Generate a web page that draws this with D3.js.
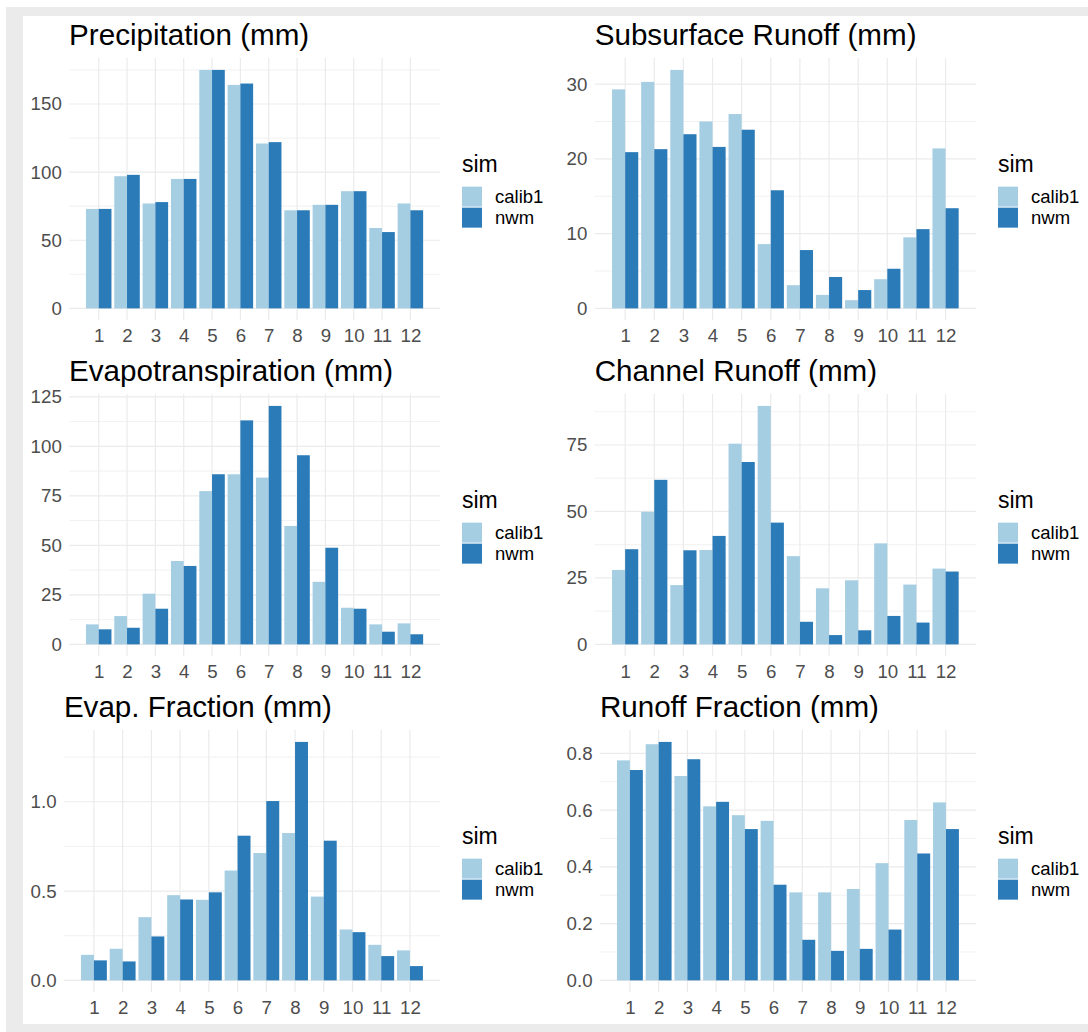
<!DOCTYPE html>
<html>
<head>
<meta charset="utf-8">
<script src="https://cdn.jsdelivr.net/npm/d3@7"></script>
<style>
  body { margin: 0; background: #fff; }
  text { font-family: "Liberation Sans", Arial, Helvetica, sans-serif; }
</style>
</head>
<body>
<svg id="chart" width="1088" height="1032"></svg>
<script>
// x axis: month of year
const months = [1, 2, 3, 4, 5, 6, 7, 8, 9, 10, 11, 12];
const sims = ["calib1", "nwm"];
const simColors = ["#a6cee3", "#2b7bb8"];

// Precipitation (mm)
const precipCalib1 = [73, 97, 77, 95, 175, 164, 121, 72, 76, 86, 59, 77];
const precipNwm    = [73, 98, 78, 95, 175, 165, 122, 72, 76, 86, 56, 72];
const precipTicks  = [0, 50, 100, 150];

// Subsurface Runoff (mm)
const subCalib1 = [29.3, 30.3, 31.9, 25.0, 26.0, 8.6, 3.1, 1.8, 1.1, 3.9, 9.5, 21.4];
const subNwm    = [20.9, 21.3, 23.3, 21.6, 23.9, 15.8, 7.8, 4.2, 2.45, 5.3, 10.6, 13.4];
const subTicks  = [0, 10, 20, 30];

// Evapotranspiration (mm)
const etCalib1 = [10.1, 14.3, 25.6, 42.1, 77.4, 85.9, 84.2, 59.8, 31.6, 18.5, 10.1, 10.6];
const etNwm    = [7.6, 8.4, 18.0, 39.6, 85.9, 113.1, 120.4, 95.5, 48.8, 18.0, 6.4, 5.1];
const etTicks  = [0, 25, 50, 75, 100, 125];

// Channel Runoff (mm)
const chanCalib1 = [28.0, 49.9, 22.3, 35.5, 75.5, 89.7, 33.2, 21.1, 24.1, 38.0, 22.5, 28.5];
const chanNwm    = [35.8, 61.9, 35.4, 40.8, 68.6, 45.8, 8.5, 3.5, 5.3, 10.7, 8.2, 27.4];
const chanTicks  = [0, 25, 50, 75];

// Evap. Fraction
const efCalib1 = [0.143, 0.177, 0.354, 0.477, 0.451, 0.615, 0.713, 0.825, 0.469, 0.285, 0.199, 0.168];
const efNwm    = [0.112, 0.106, 0.246, 0.453, 0.493, 0.810, 1.004, 1.335, 0.782, 0.270, 0.136, 0.080];
const efTicks  = [0, 0.5, 1.0];

// Runoff Fraction
const rfCalib1 = [0.775, 0.832, 0.720, 0.613, 0.582, 0.562, 0.310, 0.310, 0.322, 0.413, 0.565, 0.627];
const rfNwm    = [0.741, 0.840, 0.779, 0.629, 0.533, 0.337, 0.143, 0.104, 0.111, 0.179, 0.447, 0.533];
const rfTicks  = [0, 0.2, 0.4, 0.6, 0.8];

const panels = [
  { title: "Precipitation (mm)", calib1: precipCalib1, nwm: precipNwm, ticks: precipTicks, fmt: d3.format("d") },
  { title: "Subsurface Runoff (mm)", calib1: subCalib1, nwm: subNwm, ticks: subTicks, fmt: d3.format("d") },
  { title: "Evapotranspiration (mm)", calib1: etCalib1, nwm: etNwm, ticks: etTicks, fmt: d3.format("d") },
  { title: "Channel Runoff (mm)", calib1: chanCalib1, nwm: chanNwm, ticks: chanTicks, fmt: d3.format("d") },
  { title: "Evap. Fraction (mm)", calib1: efCalib1, nwm: efNwm, ticks: efTicks, fmt: d3.format(".1f") },
  { title: "Runoff Fraction (mm)", calib1: rfCalib1, nwm: rfNwm, ticks: rfTicks, fmt: d3.format(".1f") }
];

const W = 1088, H = 1032;
const svg = d3.select("#chart");

// grey screenshot frame
svg.append("rect").attr("x", 6).attr("y", 7).attr("width", W - 6).attr("height", H - 7).attr("fill", "#ebebeb");
svg.append("rect").attr("x", 23).attr("y", 16).attr("width", W - 23).attr("height", 1008).attr("fill", "#fff");

const gridCol = "#ebebeb";
const tickCol = "#4d4d4d";

panels.forEach((p, i) => {
  const col = i % 2, row = Math.floor(i / 2);
  const cx = 30.6 + col * 536;          // left edge of y labels
  const rowTop = 16 + row * 336;
  const top = rowTop + 42, bottom = rowTop + 304.3;
  const right = cx + 409.4;

  const ymax = d3.max(p.calib1.concat(p.nwm));
  const y = d3.scaleLinear().domain([-0.05 * ymax, 1.05 * ymax]).range([bottom, top]);

  const g = svg.append("g");
  const gridG = g.append("g");

  // y axis labels (measured first to place the panel)
  const yAxisG = g.append("g")
    .call(d3.axisLeft(y).tickValues(p.ticks).tickFormat(p.fmt).tickSize(0).tickPadding(7.3));
  yAxisG.select(".domain").remove();
  yAxisG.selectAll("text")
    .style("font-size", "18.7px")
    .attr("fill", tickCol);
  yAxisG.attr("font-family", null).attr("font-size", null);
  const lw = d3.max(yAxisG.selectAll("text").nodes(), n => n.getComputedTextLength());
  const left = cx + lw + 7.3;
  yAxisG.attr("transform", `translate(${left},0)`);

  const x = d3.scaleLinear().domain([0.55 - 0.595, 12.45 + 0.595]).range([left, right]);

  // minor breaks at midpoints
  const step = p.ticks[1] - p.ticks[0];
  const minor = [];
  for (let k = 0; k < p.ticks.length - 1; k++) minor.push((p.ticks[k] + p.ticks[k + 1]) / 2);
  if (p.ticks[0] - step / 2 >= y.domain()[0]) minor.unshift(p.ticks[0] - step / 2);
  if (p.ticks[p.ticks.length - 1] + step / 2 <= y.domain()[1]) minor.push(p.ticks[p.ticks.length - 1] + step / 2);

  gridG.selectAll(".minor").data(minor).join("line")
    .attr("x1", left).attr("x2", right)
    .attr("y1", d => y(d)).attr("y2", d => y(d))
    .attr("stroke", gridCol).attr("stroke-width", 0.7);
  gridG.selectAll(".hmajor").data(p.ticks).join("line")
    .attr("x1", left).attr("x2", right)
    .attr("y1", d => y(d)).attr("y2", d => y(d))
    .attr("stroke", gridCol).attr("stroke-width", 1.2);
  gridG.selectAll(".vmajor").data(months).join("line")
    .attr("x1", d => x(d)).attr("x2", d => x(d))
    .attr("y1", top).attr("y2", bottom)
    .attr("stroke", gridCol).attr("stroke-width", 1.2);

  // bars: calib1 left of month, nwm right of month
  const bars = [];
  months.forEach((m, j) => {
    bars.push({ m: m, v: p.calib1[j], s: 0 });
    bars.push({ m: m, v: p.nwm[j], s: 1 });
  });
  g.append("g").selectAll("rect").data(bars).join("rect")
    .attr("x", d => x(d.m - 0.45 + d.s * 0.45))
    .attr("width", d => x(d.m) - x(d.m - 0.45))
    .attr("y", d => y(d.v))
    .attr("height", d => y(0) - y(d.v))
    .attr("fill", d => simColors[d.s]);

  // x axis labels
  const xAxisG = g.append("g")
    .attr("transform", `translate(0,${bottom})`)
    .call(d3.axisBottom(x).tickValues(months).tickFormat(d3.format("d")).tickSize(0).tickPadding(8.1));
  xAxisG.select(".domain").remove();
  xAxisG.attr("font-family", null).attr("font-size", null);
  xAxisG.selectAll("text").style("font-size", "18.7px").attr("fill", tickCol);

  // title
  g.append("text")
    .attr("x", left).attr("y", top - 12.8)
    .style("font-size", "29.6px")
    .attr("fill", "#000")
    .text(p.title);

  // legend
  const mid = (top + bottom) / 2;
  const lx = right + 22;
  const lg = g.append("g");
  lg.append("text").attr("x", lx).attr("y", mid - 17.5)
    .style("font-size", "23px").attr("fill", "#000").text("sim");
  lg.selectAll("rect").data(sims).join("rect")
    .attr("x", lx).attr("y", (d, k) => mid - 2.5 + k * 21)
    .attr("width", 20).attr("height", 20)
    .attr("fill", (d, k) => simColors[k]);
  lg.selectAll(".lab").data(sims).join("text")
    .attr("x", lx + 33).attr("y", (d, k) => mid + 14 + k * 21)
    .style("font-size", "18.5px").attr("fill", "#000")
    .text(d => d);
});
</script>
</body>
</html>
